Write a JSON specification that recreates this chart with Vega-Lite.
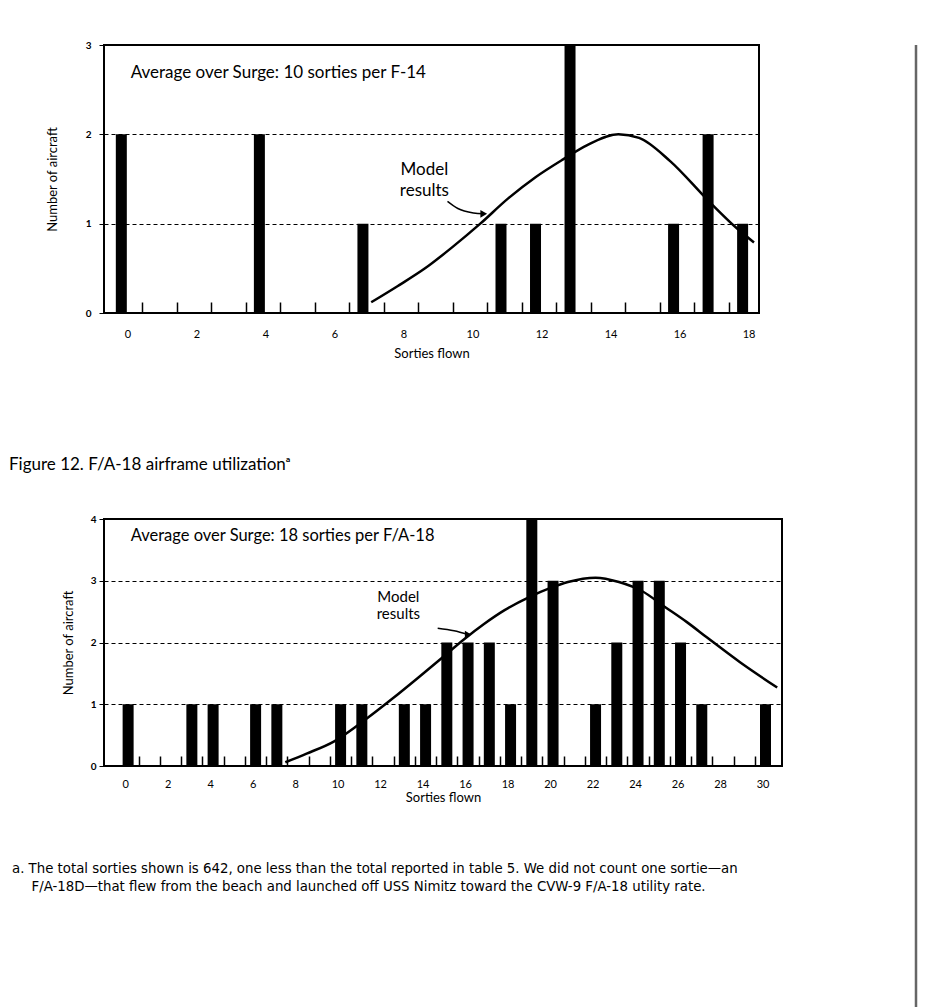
{
  "$schema": "https://vega.github.io/schema/vega-lite/v6.json",
  "background": "white",
  "padding": {"left": 8, "top": 39, "right": 5, "bottom": 0},
  "config": {
    "font": "Lato",
    "view": {"stroke": "black", "strokeWidth": 2},
    "axis": {"domain": false, "labelColor": "black", "titleColor": "black", "tickColor": "black", "labelFont": "Lato", "titleFont": "Lato", "titleFontWeight": "normal", "labelFontSize": 11, "titleFontSize": 13}
  },
  "datasets": {
    "bars1": [
      {"x": 0, "y": 2}, {"x": 4, "y": 2}, {"x": 7, "y": 1}, {"x": 11, "y": 1}, {"x": 12, "y": 1},
      {"x": 13, "y": 3}, {"x": 16, "y": 1}, {"x": 17, "y": 2}, {"x": 18, "y": 1}
    ],
    "model1": [
      {"x": 7.24, "y": 0.12}, {"x": 8.0, "y": 0.3}, {"x": 8.8, "y": 0.5}, {"x": 9.6, "y": 0.74},
      {"x": 10.4, "y": 1.0}, {"x": 11.2, "y": 1.28}, {"x": 12.0, "y": 1.52}, {"x": 12.8, "y": 1.72},
      {"x": 13.5, "y": 1.88}, {"x": 14.4, "y": 2.0}, {"x": 15.0, "y": 1.96}, {"x": 15.9, "y": 1.7},
      {"x": 17.0, "y": 1.26}, {"x": 17.8, "y": 0.96}, {"x": 18.33, "y": 0.79}
    ],
    "arrow1": [
      {"x": 9.45, "y": 1.25}, {"x": 9.75, "y": 1.17}, {"x": 10.2, "y": 1.12}, {"x": 10.5, "y": 1.11}
    ],
    "head1": [{"x": 10.5, "y": 1.11}],
    "note1": [{"x": 0.27, "y": 2.69, "text": "Average over Surge: 10 sorties per F-14"}],
    "model1label": [{"x": 8.78, "y": 1.6, "text": "Model"}, {"x": 8.78, "y": 1.37, "text": "results"}],
    "bars2": [
      {"x": 0, "y": 1}, {"x": 3, "y": 1}, {"x": 4, "y": 1}, {"x": 6, "y": 1}, {"x": 7, "y": 1},
      {"x": 10, "y": 1}, {"x": 11, "y": 1}, {"x": 13, "y": 1}, {"x": 14, "y": 1}, {"x": 15, "y": 2},
      {"x": 16, "y": 2}, {"x": 17, "y": 2}, {"x": 18, "y": 1}, {"x": 19, "y": 4}, {"x": 20, "y": 3},
      {"x": 22, "y": 1}, {"x": 23, "y": 2}, {"x": 24, "y": 3}, {"x": 25, "y": 3}, {"x": 26, "y": 2},
      {"x": 27, "y": 1}, {"x": 30, "y": 1}
    ],
    "model2": [
      {"x": 7.4, "y": 0.06}, {"x": 8.4, "y": 0.2}, {"x": 9.7, "y": 0.4}, {"x": 11.2, "y": 0.76},
      {"x": 12.4, "y": 1.08}, {"x": 13.65, "y": 1.43}, {"x": 14.8, "y": 1.76}, {"x": 15.8, "y": 2.05},
      {"x": 16.75, "y": 2.3}, {"x": 17.7, "y": 2.52}, {"x": 18.9, "y": 2.74}, {"x": 19.85, "y": 2.88},
      {"x": 20.7, "y": 2.98}, {"x": 22.0, "y": 3.05}, {"x": 23.1, "y": 2.98}, {"x": 24.2, "y": 2.83},
      {"x": 25.25, "y": 2.58}, {"x": 26.3, "y": 2.33}, {"x": 27.25, "y": 2.08}, {"x": 28.8, "y": 1.68},
      {"x": 30.55, "y": 1.27}
    ],
    "arrow2": [{"x": 14.57, "y": 2.23}, {"x": 15.34, "y": 2.19}, {"x": 16.0, "y": 2.13}],
    "head2": [{"x": 16.0, "y": 2.13}],
    "note2": [{"x": 0.12, "y": 3.72, "text": "Average over Surge: 18 sorties per F/A-18"}],
    "model2label": [{"x": 12.72, "y": 2.74, "text": "Model"}, {"x": 12.72, "y": 2.46, "text": "results"}],
    "pageEdge": [{"edge": 0}]
  },
  "spacing": 131,
  "hconcat": [
    {
      "spacing": 94,
      "title": {
        "text": [
          "a. The total sorties shown is 642, one less than the total reported in table 5. We did not count one sortie\u2014an",
          "\u2800\u2800F/A-18D\u2014that flew from the beach and launched off USS Nimitz toward the CVW-9 F/A-18 utility rate."
        ],
        "orient": "bottom", "anchor": "start", "frame": "bounds",
        "font": "Liberation Sans Narrow, DejaVu Sans Condensed, sans-serif",
        "fontSize": 14.8, "fontWeight": "normal", "lineHeight": 18, "offset": 56, "dx": 4, "color": "black"
      },
      "vconcat": [
        {
          "width": 655, "height": 268,
          "layer": [
            {
              "data": {"name": "bars1"},
              "mark": {"type": "bar", "color": "black", "size": 11},
              "encoding": {
                "x": {
                  "field": "x", "type": "quantitative",
                  "scale": {"domain": [-0.357, 18.33], "nice": false, "zero": false},
                  "axis": {
                    "title": "Sorties flown", "grid": false, "tickCount": 100,
                    "values": [0, 2, 4, 6, 8, 10, 12, 14, 16, 18, 0.6, 1.6, 2.6, 3.6, 4.6, 5.6, 6.6, 7.6, 8.6, 9.6, 10.6, 11.6, 12.6, 13.6, 14.6, 15.6, 16.6, 17.6],
                    "labelExpr": "datum.value % 2 === 0 ? '' + datum.value : ''",
                    "labelOverlap": false, "labelFlush": false, "labelOffset": 6,
                    "tickSize": -11, "tickWidth": 1.5,
                    "tickOpacity": {"condition": {"test": "datum.value % 1 !== 0", "value": 1}, "value": 0},
                    "labelPadding": 26, "titlePadding": 8
                  }
                },
                "y": {
                  "field": "y", "type": "quantitative",
                  "scale": {"domain": [0, 3], "nice": false},
                  "axis": {
                    "title": "Number of aircraft", "values": [0, 1, 2, 3], "grid": true, "format": "d",
                    "gridDash": [4, 3], "gridColor": "black", "gridOpacity": 1, "gridWidth": 1,
                    "tickSize": 5, "labelPadding": 8, "titlePadding": 26, "labelFontWeight": "bold", "labelFontSize": 10
                  }
                }
              }
            },
            {
              "data": {"name": "model1"},
              "mark": {"type": "line", "color": "black", "strokeWidth": 2.5, "interpolate": "monotone", "clip": true},
              "encoding": {"x": {"field": "x", "type": "quantitative"}, "y": {"field": "y", "type": "quantitative"}}
            },
            {
              "data": {"name": "arrow1"},
              "mark": {"type": "line", "color": "black", "strokeWidth": 1.5, "interpolate": "monotone"},
              "encoding": {"x": {"field": "x", "type": "quantitative"}, "y": {"field": "y", "type": "quantitative"}}
            },
            {
              "data": {"name": "head1"},
              "mark": {"type": "point", "shape": "triangle-right", "filled": true, "color": "black", "size": 60, "opacity": 1},
              "encoding": {"x": {"field": "x", "type": "quantitative"}, "y": {"field": "y", "type": "quantitative"}}
            },
            {
              "data": {"name": "note1"},
              "mark": {"type": "text", "align": "left", "baseline": "middle", "fontSize": 17, "color": "black", "font": "Lato"},
              "encoding": {"x": {"field": "x", "type": "quantitative"}, "y": {"field": "y", "type": "quantitative"}, "text": {"field": "text"}}
            },
            {
              "data": {"name": "model1label"},
              "mark": {"type": "text", "align": "center", "baseline": "middle", "fontSize": 17, "color": "black", "font": "Lato"},
              "encoding": {"x": {"field": "x", "type": "quantitative"}, "y": {"field": "y", "type": "quantitative"}, "text": {"field": "text"}}
            }
          ]
        },
        {
          "width": 678, "height": 247,
          "title": {
            "text": "Figure 12.  F/A-18 airframe utilization\u1d43",
            "anchor": "start", "frame": "group", "dx": -95, "offset": 40,
            "fontSize": 17, "fontWeight": "normal", "font": "Lato", "color": "black"
          },
          "layer": [
            {
              "data": {"name": "bars2"},
              "mark": {"type": "bar", "color": "black", "size": 11},
              "encoding": {
                "x": {
                  "field": "x", "type": "quantitative",
                  "scale": {"domain": [-0.9, 30.54], "nice": false, "zero": false},
                  "axis": {
                    "title": "Sorties flown", "grid": false, "tickCount": 100,
                    "values": [0, 2, 4, 6, 8, 10, 12, 14, 16, 18, 20, 22, 24, 26, 28, 30, 0.5, 1.5, 2.5, 3.5, 4.5, 5.5, 6.5, 7.5, 8.5, 9.5, 10.5, 11.5, 12.5, 13.5, 14.5, 15.5, 16.5, 17.5, 18.5, 19.5, 20.5, 21.5, 22.5, 23.5, 24.5, 25.5, 26.5, 27.5, 28.5, 29.5],
                    "labelExpr": "datum.value % 2 === 0 ? '' + datum.value : ''",
                    "labelOverlap": false, "labelFlush": false, "labelOffset": -3,
                    "tickSize": -10, "tickWidth": 1.5,
                    "tickOpacity": {"condition": {"test": "datum.value % 1 !== 0", "value": 1}, "value": 0},
                    "labelPadding": 22, "titlePadding": 2
                  }
                },
                "y": {
                  "field": "y", "type": "quantitative",
                  "scale": {"domain": [0, 4], "nice": false},
                  "axis": {
                    "title": "Number of aircraft", "values": [0, 1, 2, 3, 4], "grid": true, "format": "d",
                    "gridDash": [4, 3], "gridColor": "black", "gridOpacity": 1, "gridWidth": 1,
                    "tickSize": 5, "labelPadding": 3, "titlePadding": 15, "labelFontWeight": "bold", "labelFontSize": 10
                  }
                }
              }
            },
            {
              "data": {"name": "model2"},
              "mark": {"type": "line", "color": "black", "strokeWidth": 2.5, "interpolate": "monotone", "clip": true},
              "encoding": {"x": {"field": "x", "type": "quantitative"}, "y": {"field": "y", "type": "quantitative"}}
            },
            {
              "data": {"name": "arrow2"},
              "mark": {"type": "line", "color": "black", "strokeWidth": 1.5, "interpolate": "monotone"},
              "encoding": {"x": {"field": "x", "type": "quantitative"}, "y": {"field": "y", "type": "quantitative"}}
            },
            {
              "data": {"name": "head2"},
              "mark": {"type": "point", "shape": "triangle-right", "filled": true, "color": "black", "size": 55, "opacity": 1},
              "encoding": {"x": {"field": "x", "type": "quantitative"}, "y": {"field": "y", "type": "quantitative"}}
            },
            {
              "data": {"name": "note2"},
              "mark": {"type": "text", "align": "left", "baseline": "middle", "fontSize": 16.5, "color": "black", "font": "Lato"},
              "encoding": {"x": {"field": "x", "type": "quantitative"}, "y": {"field": "y", "type": "quantitative"}, "text": {"field": "text"}}
            },
            {
              "data": {"name": "model2label"},
              "mark": {"type": "text", "align": "center", "baseline": "middle", "fontSize": 15, "color": "black", "font": "Lato"},
              "encoding": {"x": {"field": "x", "type": "quantitative"}, "y": {"field": "y", "type": "quantitative"}, "text": {"field": "text"}}
            }
          ]
        }
      ]
    },
    {
      "width": 2, "height": 975,
      "view": {"stroke": null},
      "data": {"name": "pageEdge"},
      "mark": {"type": "rule", "color": "#666666", "strokeWidth": 2.5},
      "encoding": {"x": {"field": "edge", "type": "quantitative", "axis": null, "scale": {"domain": [0, 1]}}}
    }
  ]
}
